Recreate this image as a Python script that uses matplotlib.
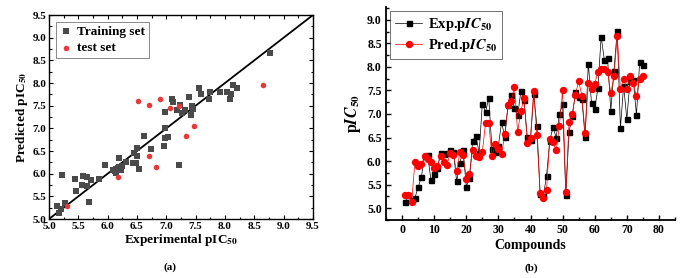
import numpy as np
import matplotlib
matplotlib.use("Agg")
from matplotlib import pyplot as plt
from matplotlib.ticker import MultipleLocator

plt.rcParams['font.family'] = ['Liberation Serif', 'DejaVu Serif']
plt.rcParams['font.weight'] = 'bold'
plt.rcParams['mathtext.fontset'] = 'stix'

# (a) experimental vs predicted
train_exp = [5.14, 5.17, 5.23, 5.27, 5.21, 5.44, 5.46, 5.58, 5.57, 5.65, 5.65, 5.72,
             5.68, 5.85, 5.95, 6.09, 6.14, 6.12, 6.15, 6.18, 6.20, 6.22, 6.25, 6.20,
             6.32, 6.44, 6.49, 6.45, 6.50, 6.50, 6.54, 6.62, 6.74, 6.96, 6.97, 6.98,
             6.97, 7.03, 7.10, 7.12, 7.18, 7.22, 7.23, 7.27, 7.31, 7.38, 7.42, 7.43,
             7.46, 7.55, 7.59, 7.72, 7.74, 7.92, 8.04, 8.08, 8.10, 8.14, 8.20, 8.77]
train_pred = [5.28, 5.13, 5.98, 5.35, 5.21, 5.89, 5.62, 5.94, 5.75, 5.93, 5.72, 5.87,
              5.37, 5.89, 6.19, 6.09, 6.01, 6.05, 6.10, 6.12, 6.15, 6.08, 6.18, 6.35,
              6.25, 6.24, 6.23, 6.46, 6.56, 6.38, 6.10, 6.83, 6.55, 6.62, 6.78, 7.37,
              7.00, 6.80, 7.64, 7.57, 7.41, 6.20, 7.52, 7.34, 7.41, 7.70, 7.29, 7.50,
              7.43, 7.89, 7.75, 7.64, 7.80, 7.80, 7.80, 7.64, 7.75, 7.96, 7.90, 8.67]
test_exp = [5.30, 6.17, 6.51, 6.70, 6.71, 6.82, 6.89, 7.07, 7.22, 7.34, 7.48, 8.64]
test_pred = [5.29, 5.92, 7.60, 7.52, 6.40, 6.14, 7.64, 7.44, 7.50, 6.82, 7.06, 7.96]

# (b) per compound
compounds = np.arange(1, 76)
exp_pic50 = [5.14, 5.28, 5.18, 5.22, 5.44, 5.66, 6.10, 6.12, 5.60, 5.72,
             5.85, 6.18, 6.16, 6.17, 6.24, 6.20, 5.57, 5.96, 6.24, 5.46,
             5.64, 6.43, 6.54, 6.17, 7.22, 7.04, 7.34, 6.25, 6.20, 6.33,
             6.82, 6.51, 7.18, 7.41, 7.12, 6.97, 7.48, 7.29, 6.51, 6.45,
             7.42, 6.74, 5.30, 5.26, 5.69, 6.43, 6.72, 6.50, 7.00, 7.21,
             5.27, 6.62, 6.95, 7.46, 7.37, 7.31, 6.51, 8.07, 7.24, 7.11,
             7.55, 8.64, 8.15, 8.19, 7.07, 7.92, 8.77, 6.70, 7.60, 6.89,
             7.70, 7.72, 6.98, 8.10, 8.04]
pred_pic50 = [5.29, 5.29, 5.14, 5.98, 5.90, 5.93, 6.10, 6.04, 5.98, 5.86,
              5.90, 6.10, 5.99, 5.92, 6.18, 6.12, 5.78, 6.19, 6.12, 5.63,
              5.73, 6.24, 6.10, 6.08, 6.20, 6.80, 6.81, 6.10, 6.36, 6.26,
              6.14, 6.58, 7.18, 7.28, 7.57, 6.62, 7.06, 7.34, 6.39, 6.50,
              7.49, 6.55, 5.32, 5.22, 5.38, 6.47, 6.40, 6.23, 6.75, 7.50,
              5.35, 6.83, 7.00, 7.41, 7.70, 7.39, 6.60, 7.65, 7.52, 7.64,
              7.89, 7.95, 7.95, 7.90, 7.44, 7.80, 8.66, 7.52, 7.75, 7.53,
              7.81, 7.65, 7.38, 7.75, 7.80]

W, H = 683, 278
fig = plt.figure(figsize=(W / 100, H / 100), dpi=100)

def frac(l, t, r, b):
    return [l / W, 1 - b / H, (r - l) / W, (b - t) / H]

# ---- panel (a)
ax1 = fig.add_axes(frac(49, 15, 313, 219))
ax1.plot([5, 9.5], [5, 9.5], color='black', lw=1.3, zorder=1)
ax1.scatter(train_exp, train_pred, marker='s', s=15, color='#4a4a4a',
            label='Training set', zorder=2, linewidths=0)
ax1.scatter(test_exp, test_pred, marker='o', s=16, color='#e8393a',
            label='test set', zorder=3, linewidths=0)
ax1.set_xlim(5, 9.5)
ax1.set_ylim(5, 9.5)
ax1.xaxis.set_major_locator(MultipleLocator(0.5))
ax1.yaxis.set_major_locator(MultipleLocator(0.5))
ax1.xaxis.set_minor_locator(MultipleLocator(0.25))
ax1.yaxis.set_minor_locator(MultipleLocator(0.25))
ax1.tick_params(which='both', direction='in', top=True, right=True, width=0.8)
ax1.tick_params(which='major', length=3, pad=2)
ax1.tick_params(which='minor', length=1.8)
for lab in ax1.get_xticklabels() + ax1.get_yticklabels():
    lab.set_fontsize(8)
    lab.set_fontweight('bold')
for s in ax1.spines.values():
    s.set_linewidth(1.0)
ax1.set_xlabel(r'Experimental pIC$_{50}$', fontsize=9.5, fontweight='bold', labelpad=1)
ax1.set_ylabel(r'Predicted pIC$_{50}$', fontsize=9.5, fontweight='bold', labelpad=2)
leg1 = ax1.legend(loc='upper left', frameon=True, fancybox=False,
                  handletextpad=0.3, borderpad=0.3, labelspacing=0.3,
                  handlelength=1.0, borderaxespad=0.5, prop=dict(weight='bold', size=9.5))
leg1.get_frame().set_edgecolor('#555555')
leg1.get_frame().set_linewidth(0.6)
fig.text(170 / W, 1 - 267 / H, '(a)', ha='center', va='center', fontsize=8, fontweight='bold')

# ---- panel (b)
ax2 = fig.add_axes(frac(386, 7, 675, 220))
ax2.plot(compounds, exp_pic50, color='black', lw=0.5, marker='s', ms=3.6,
         label=r'Exp.p$\mathbfit{IC}_{\mathbf{50}}$', zorder=2)
ax2.plot(compounds, pred_pic50, color='red', lw=0.5, marker='o', ms=4.3,
         label=r'Pred.p$\mathbfit{IC}_{\mathbf{50}}$', zorder=3)
ax2.set_xlim(-5, 85)
ax2.set_ylim(4.75, 9.27)
ax2.xaxis.set_major_locator(MultipleLocator(10))
ax2.xaxis.set_minor_locator(MultipleLocator(5))
ax2.yaxis.set_major_locator(MultipleLocator(0.5))
ax2.yaxis.set_minor_locator(MultipleLocator(0.25))
ax2.spines['top'].set_visible(False)
ax2.spines['right'].set_visible(False)
for s in ('left', 'bottom'):
    ax2.spines[s].set_linewidth(1.3)
ax2.tick_params(which='both', direction='in', width=1.0)
ax2.tick_params(which='major', length=3.5, pad=3)
ax2.tick_params(which='minor', length=2)
for lab in ax2.get_xticklabels() + ax2.get_yticklabels():
    lab.set_fontsize(8.5)
ax2.set_xlabel('Compounds', fontsize=10, fontweight='bold', labelpad=2)
ax2.set_ylabel(r'p$\mathbfit{IC}_{\mathbf{50}}$', fontsize=11.5, fontweight='bold', labelpad=3)
leg2 = ax2.legend(loc='upper left', frameon=True, fancybox=False,
                  handlelength=1.9, handletextpad=0.4, borderpad=0.3,
                  labelspacing=0.3, borderaxespad=0.3,
                  prop=dict(weight='bold', size=10.5))
leg2.get_frame().set_edgecolor('#333333')
leg2.get_frame().set_linewidth(0.6)
fig.text(531 / W, 1 - 268 / H, '(b)', ha='center', va='center', fontsize=8, fontweight='bold')

fig.savefig('out.png', dpi=100)
